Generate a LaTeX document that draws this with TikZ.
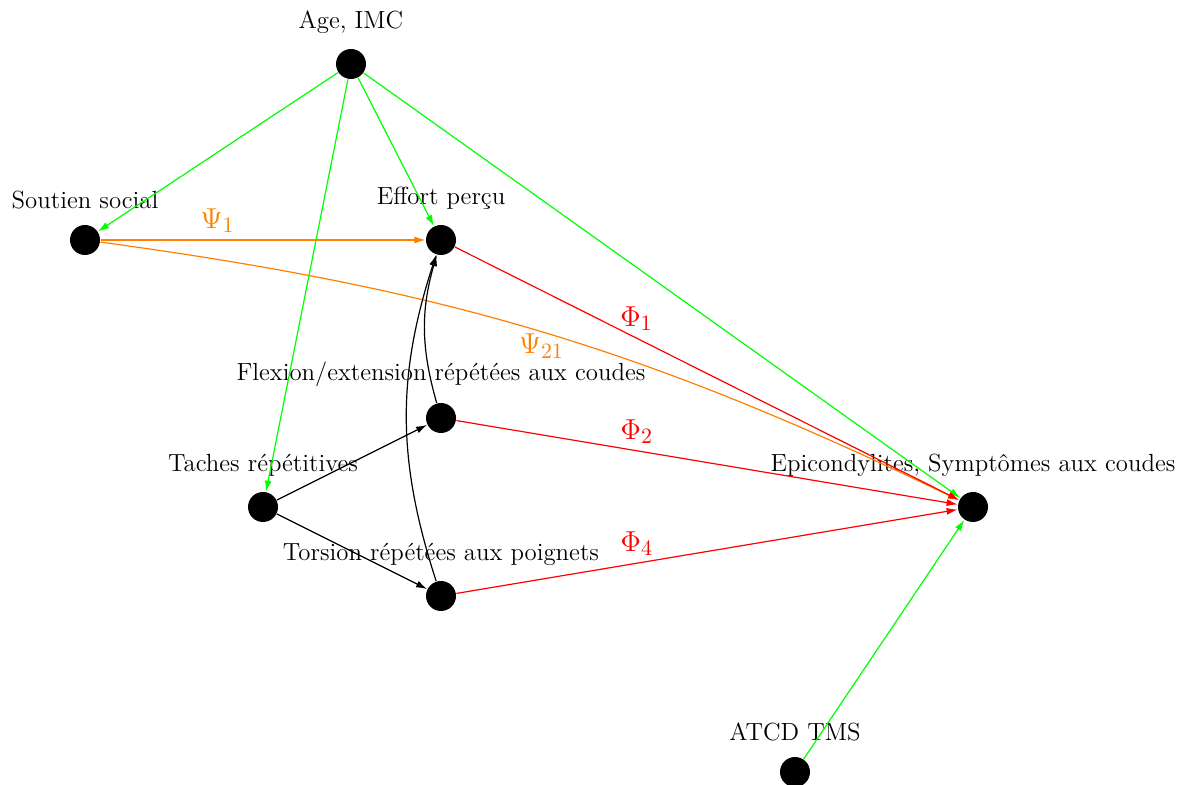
\documentclass[tikz,border=0pt]{standalone}
\usetikzlibrary{arrows.meta}
\tikzset{>={Latex[length=5.5pt, width=3.5pt]}}

\begin{document}
\begin{tikzpicture}[x=0.5pt, y=-0.5pt, semithick,
    font=\fontsize{12.4}{15}\selectfont,
    pt/.style={circle, fill, inner sep=0pt, minimum size=15pt},
    every label/.style={label distance=4pt},
    coef/.style={font=\fontsize{15}{18}\selectfont},
    vert/.style={->, green},
    orng/.style={->, orange},
    rouge/.style={->, red}]
    \useasboundingbox(0, 0)rectangle(1189, 785);
    \node[pt, label=above:{Age, IMC}](age)at(351, 64){};
    \node[pt, label=above:{Soutien social}](sou)at(85, 240){};
    \node[pt, label=above:{Effort perçu}](eff)at(441, 240){};
    \node[pt, label=above:{Flexion/extension répétées aux coudes}](fle)at(441, 418){};
    \node[pt, label=above:{Taches répétitives}](tac)at(263, 507){};
    \node[pt, label=above:{Torsion répétées aux poignets}](tor)at(441, 596){};
    \node[pt, label=above:{Epicondylites, Symptômes aux coudes}](epi)at(973, 507){};
    \node[pt, label=above:{ATCD TMS}](atc)at(795, 772){};
    % facteurs de confusion
    \draw[vert](age)--(sou);
    \draw[vert](age)--(eff);
    \draw[vert](age)--(tac);
    \draw[vert](age)--(epi);
    \draw[vert](atc)--(epi);
    % soutien social
    \draw[orng](sou)--(eff)node[coef, pos=0.36, above, text=orange]{$\Psi_1$};
    \draw[orng](sou)to[bend left=9]node[coef, pos=0.5, below=-2.5pt, text=orange]{$\Psi_{21}$}(epi);
    % expositions
    \draw[->](tac)--(fle);
    \draw[->](tac)--(tor);
    \draw[->](fle)to[bend left=16](eff);
    \draw[->](tor)to[bend left=18](eff);
    \draw[rouge](eff)--(epi)node[coef, pos=0.36, above, text=red]{$\Phi_1$};
    \draw[rouge](fle)--(epi)node[coef, pos=0.36, above, text=red]{$\Phi_2$};
    \draw[rouge](tor)--(epi)node[coef, pos=0.36, above, text=red]{$\Phi_4$};
\end{tikzpicture}
\end{document}
